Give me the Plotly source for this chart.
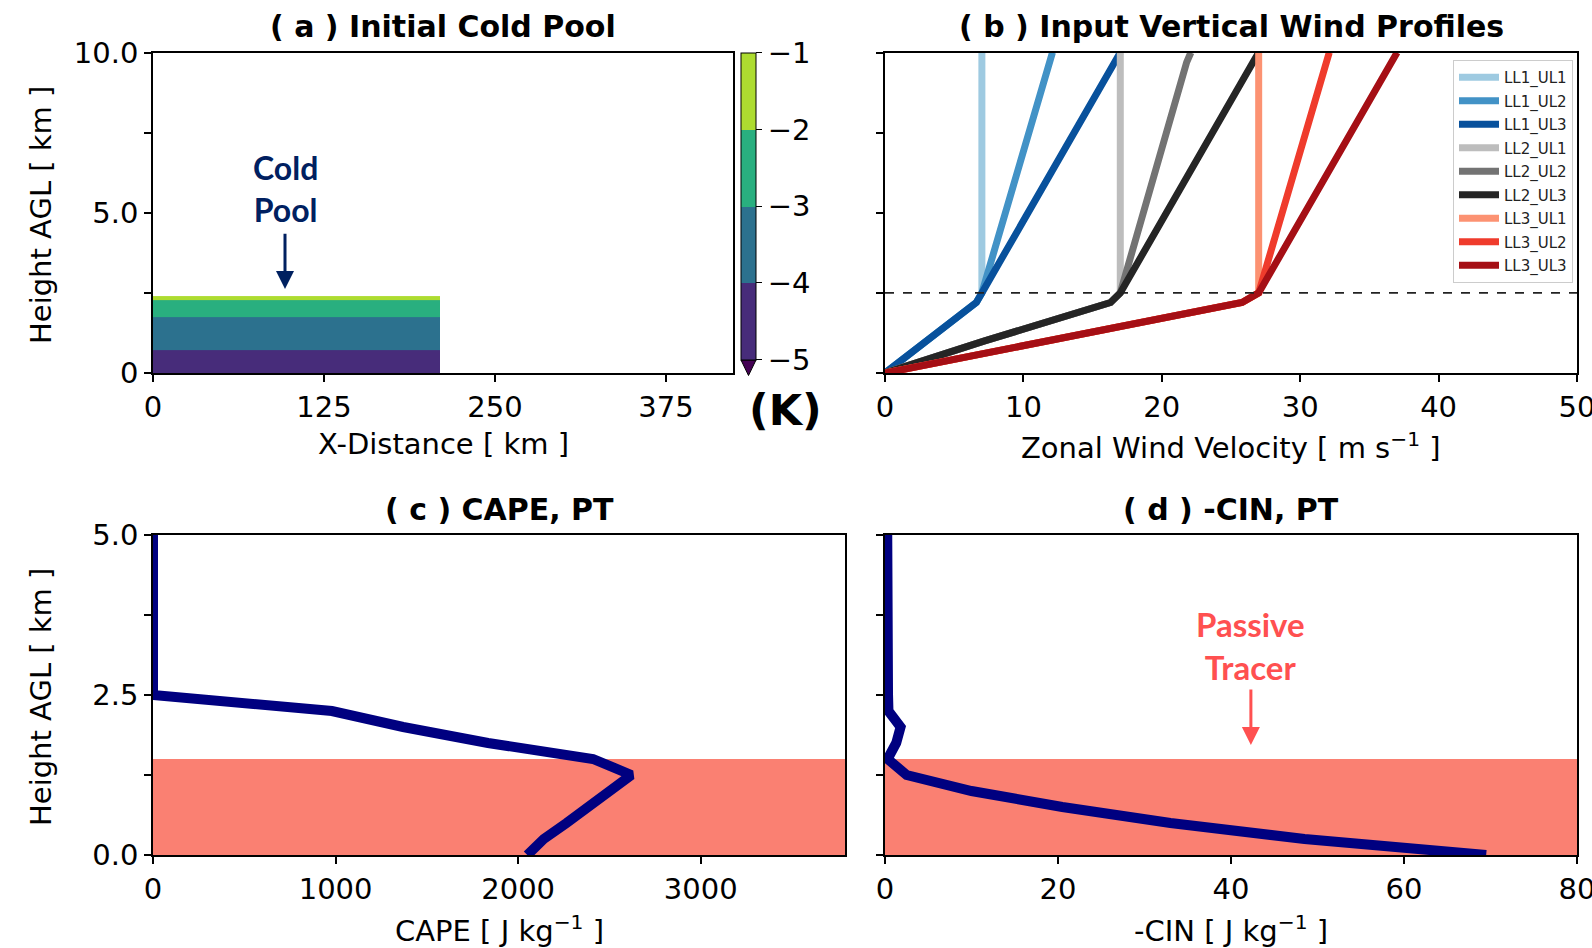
import plotly.graph_objects as go

W, H = 1592, 948

# ---------------- data ----------------
# (a) cold pool: perturbation bands (K) over x extent
POOL_X_EDGES = [0, 210]
POOL_Z_EDGES = [0, 0.72, 1.75, 2.28, 2.4]
POOL_THETA = [-4.5, -3.5, -2.5, -1.5]
CB_TICKS = [-5, -4, -3, -2, -1]
CB_COLORS = ["#472c7a", "#2c718e", "#29af7f", "#addc30"]
CB_EXTEND_COLOR = "#440154"

# (b) wind profiles
WIND_Z = [0, 1.0, 2.2, 2.5, 9.7, 10.0]
WIND_NAMES = ["LL1_UL1", "LL1_UL2", "LL1_UL3", "LL2_UL1", "LL2_UL2", "LL2_UL3",
              "LL3_UL1", "LL3_UL2", "LL3_UL3"]
WIND_U = [
    [0, 3.0, 6.6, 7, 7, 7],
    [0, 3.0, 6.6, 7, 11.8, 12.1],
    [0, 3.0, 6.6, 7, 16.6, 17.0],
    [0, 7.2, 16.3, 17, 17, 17],
    [0, 7.2, 16.3, 17, 21.8, 22.1],
    [0, 7.2, 16.3, 17, 26.6, 27.0],
    [0, 11.8, 25.8, 27, 27, 27],
    [0, 11.8, 25.8, 27, 31.8, 32.1],
    [0, 11.8, 25.8, 27, 36.6, 37.0],
]
WIND_COLORS = ["#9ecae1", "#4292c6", "#08519c", "#bdbdbd", "#737373", "#252525",
               "#fc9272", "#ef3b2c", "#a50f15"]
SHEAR_TOP = 2.5

# (c), (d) CAPE / -CIN profiles
PROF_Z = [0, 0.25, 0.5, 0.75, 1.0, 1.25, 1.5, 1.75, 2.0, 2.25, 2.5, 2.75, 3.0,
          3.25, 3.5, 3.75, 4.0, 4.25, 4.5, 4.75, 5.0]
CAPE = [2050, 2140, 2265, 2390, 2505, 2620, 2410, 1835, 1370, 980, 0, 0, 0,
        0, 0, 0, 0, 0, 0, 0, 0]
NEG_CIN = [69.5, 48.5, 33, 20.5, 10, 2.5, 0.3, 1.3, 1.8, 0.4, 0.35, 0.35, 0.33,
           0.32, 0.31, 0.3, 0.29, 0.28, 0.27, 0.27, 0.26]
TRACER_TOP = 1.5

# ---------------- layout helpers ----------------
def px(x):
    return x / W

def py(y):
    return 1 - y / H

FONT = "DejaVu Sans"
FS = 29

A = dict(x0=153, x1=733, y0=52.5, y1=373)
B = dict(x0=885, x1=1577, y0=52.5, y1=373)
C = dict(x0=153, x1=845, y0=535, y1=855)
D = dict(x0=885, x1=1577, y0=535, y1=855)

fig = go.Figure()

# (a) heatmap
n = len(CB_COLORS)
cscale = []
for i, c in enumerate(CB_COLORS):
    cscale.append([i / n, c])
    cscale.append([(i + 1) / n, c])
fig.add_trace(go.Heatmap(
    x=POOL_X_EDGES, y=POOL_Z_EDGES, z=[[v] for v in POOL_THETA],
    zmin=CB_TICKS[0], zmax=CB_TICKS[-1], colorscale=cscale,
    xaxis="x", yaxis="y", hoverinfo="skip",
    colorbar=dict(
        x=px(741), xanchor="left", y=py(52.7), yanchor="top",
        lenmode="pixels", len=307, thickness=15, thicknessmode="pixels",
        xpad=0, ypad=0, outlinewidth=1, outlinecolor="black",
        tickvals=CB_TICKS, ticks="outside", ticklen=6, tickwidth=1.2, tickcolor="black",
        tickprefix=" ",
        tickfont=dict(family=FONT, size=FS, color="black"),
    ),
))

# (b) wind lines
for name, u, col in zip(WIND_NAMES, WIND_U, WIND_COLORS):
    fig.add_trace(go.Scatter(
        x=u, y=WIND_Z, mode="lines", name=name, legendgroup=name,
        line=dict(color=col, width=7), xaxis="x2", yaxis="y2",
    ))

# (c) CAPE
fig.add_trace(go.Scatter(x=CAPE, y=PROF_Z, mode="lines", showlegend=False,
                         line=dict(color="#000080", width=10), xaxis="x3", yaxis="y3"))
# (d) -CIN
fig.add_trace(go.Scatter(x=NEG_CIN, y=PROF_Z, mode="lines", showlegend=False,
                         line=dict(color="#000080", width=10), xaxis="x4", yaxis="y4"))

def axis(dom, rng, tickvals, ticktext=None, show=True, anchor=None):
    d = dict(
        domain=dom, range=rng, tickvals=tickvals, showgrid=False, zeroline=False,
        showline=True, mirror=True, linecolor="black", linewidth=1.5,
        ticks="outside", ticklen=7, tickwidth=1.5, tickcolor="black",
        tickfont=dict(family=FONT, size=FS, color="black"),
        showticklabels=show, automargin=False, anchor=anchor, fixedrange=True,
        ticklabeloverflow="allow",
    )
    if ticktext is not None:
        d["ticktext"] = ticktext
    return d

fig.update_layout(
    width=W, height=H, margin=dict(l=0, r=0, t=0, b=0), autosize=False,
    template="none", paper_bgcolor="white", plot_bgcolor="white",
    xaxis=axis([px(A["x0"]), px(A["x1"])], [0, 424], [0, 125, 250, 375], anchor="y"),
    yaxis=axis([py(A["y1"]), py(A["y0"])], [0, 10], [0, 2.5, 5, 7.5, 10],
               ["0", "", "5.0", "", "10.0"], anchor="x"),
    xaxis2=axis([px(B["x0"]), px(B["x1"])], [0, 50], [0, 10, 20, 30, 40, 50], anchor="y2"),
    yaxis2=axis([py(B["y1"]), py(B["y0"])], [0, 10], [0, 2.5, 5, 7.5, 10], show=False, anchor="x2"),
    xaxis3=axis([px(C["x0"]), px(C["x1"])], [0, 3790], [0, 1000, 2000, 3000], anchor="y3"),
    yaxis3=axis([py(C["y1"]), py(C["y0"])], [0, 5], [0, 1.25, 2.5, 3.75, 5],
                ["0.0", "", "2.5", "", "5.0"], anchor="x3"),
    xaxis4=axis([px(D["x0"]), px(D["x1"])], [0, 80], [0, 20, 40, 60, 80], anchor="y4"),
    yaxis4=axis([py(D["y1"]), py(D["y0"])], [0, 5], [0, 1.25, 2.5, 3.75, 5], show=False, anchor="x4"),
    legend=dict(
        x=px(1453), y=py(60), xanchor="left", yanchor="top",
        font=dict(family=FONT, size=15, color="#222"),
        bgcolor="rgba(255,255,255,0.85)", bordercolor="#cccccc", borderwidth=1,
        tracegroupgap=1, itemwidth=40,
    ),
    showlegend=True,
)

shapes = []
# tracer layer in (c) and (d)
for xr, yr in [("x3", "y3"), ("x4", "y4")]:
    shapes.append(dict(type="rect", xref=f"{xr} domain", yref=yr, x0=0, x1=1,
                       y0=0, y1=TRACER_TOP, fillcolor="#fa8072", line=dict(width=0),
                       layer="below"))
# dashed shear top in (b)
shapes.append(dict(type="line", xref="x2 domain", yref="y2", x0=0, x1=1,
                   y0=SHEAR_TOP, y1=SHEAR_TOP, line=dict(color="#222", width=1.8, dash="dash")))
# colorbar extension triangle
shapes.append(dict(type="path", xref="paper", yref="paper",
                   path=f"M {px(741)},{py(360)} L {px(756)},{py(360)} L {px(748.5)},{py(375.5)} Z",
                   fillcolor=CB_EXTEND_COLOR, line=dict(color="black", width=1)))
fig.update_layout(shapes=shapes)

ann = []
def txt(text, x, y, size=FS, bold=False, color="black", angle=0, family=FONT):
    if bold:
        text = f"<b>{text}</b>"
    ann.append(dict(text=text, x=px(x), y=py(y), xref="paper", yref="paper",
                    xanchor="center", yanchor="middle", showarrow=False, textangle=angle,
                    font=dict(family=family, size=size, color=color)))

# titles
txt("( a ) Initial Cold Pool", 443, 26.5, size=30, bold=True)
txt("( b ) Input Vertical Wind Profiles", 1231, 26.5, size=30, bold=True)
txt("( c ) CAPE, PT", 499, 509, size=30, bold=True)
txt("( d ) -CIN, PT", 1231, 509, size=30, bold=True)
# axis titles
txt("X-Distance [ km ]", 443, 444)
txt("Zonal Wind Velocity [ m s<sup>−1</sup> ]", 1231, 446)
txt("CAPE [ J kg<sup>−1</sup> ]", 499, 929)
txt("-CIN [ J kg<sup>−1</sup> ]", 1231, 929)
txt("Height AGL [ km ]", 41, 215, angle=-90)
txt("Height AGL [ km ]", 41, 697, angle=-90)
txt("(K)", 785, 410, size=43, bold=True)
# callouts
txt("Cold<br>Pool", 285, 189, size=32, bold=True, color="#002060", family="Lato")
txt("Passive<br>Tracer", 1250, 645, size=33, bold=True, color="#ff5050", family="Lato")

ann.append(dict(x=96.5, y=2.62, ax=96.5, ay=4.39, xref="x", yref="y", axref="x", ayref="y",
                text="", showarrow=True, arrowhead=2, arrowsize=1.2, arrowwidth=3,
                arrowcolor="#002060"))
ann.append(dict(x=42.3, y=1.72, ax=42.3, ay=2.61, xref="x4", yref="y4", axref="x4", ayref="y4",
                text="", showarrow=True, arrowhead=2, arrowsize=1.2, arrowwidth=3,
                arrowcolor="#ff5050"))
fig.update_layout(annotations=ann)

fig.write_html("out.html")
